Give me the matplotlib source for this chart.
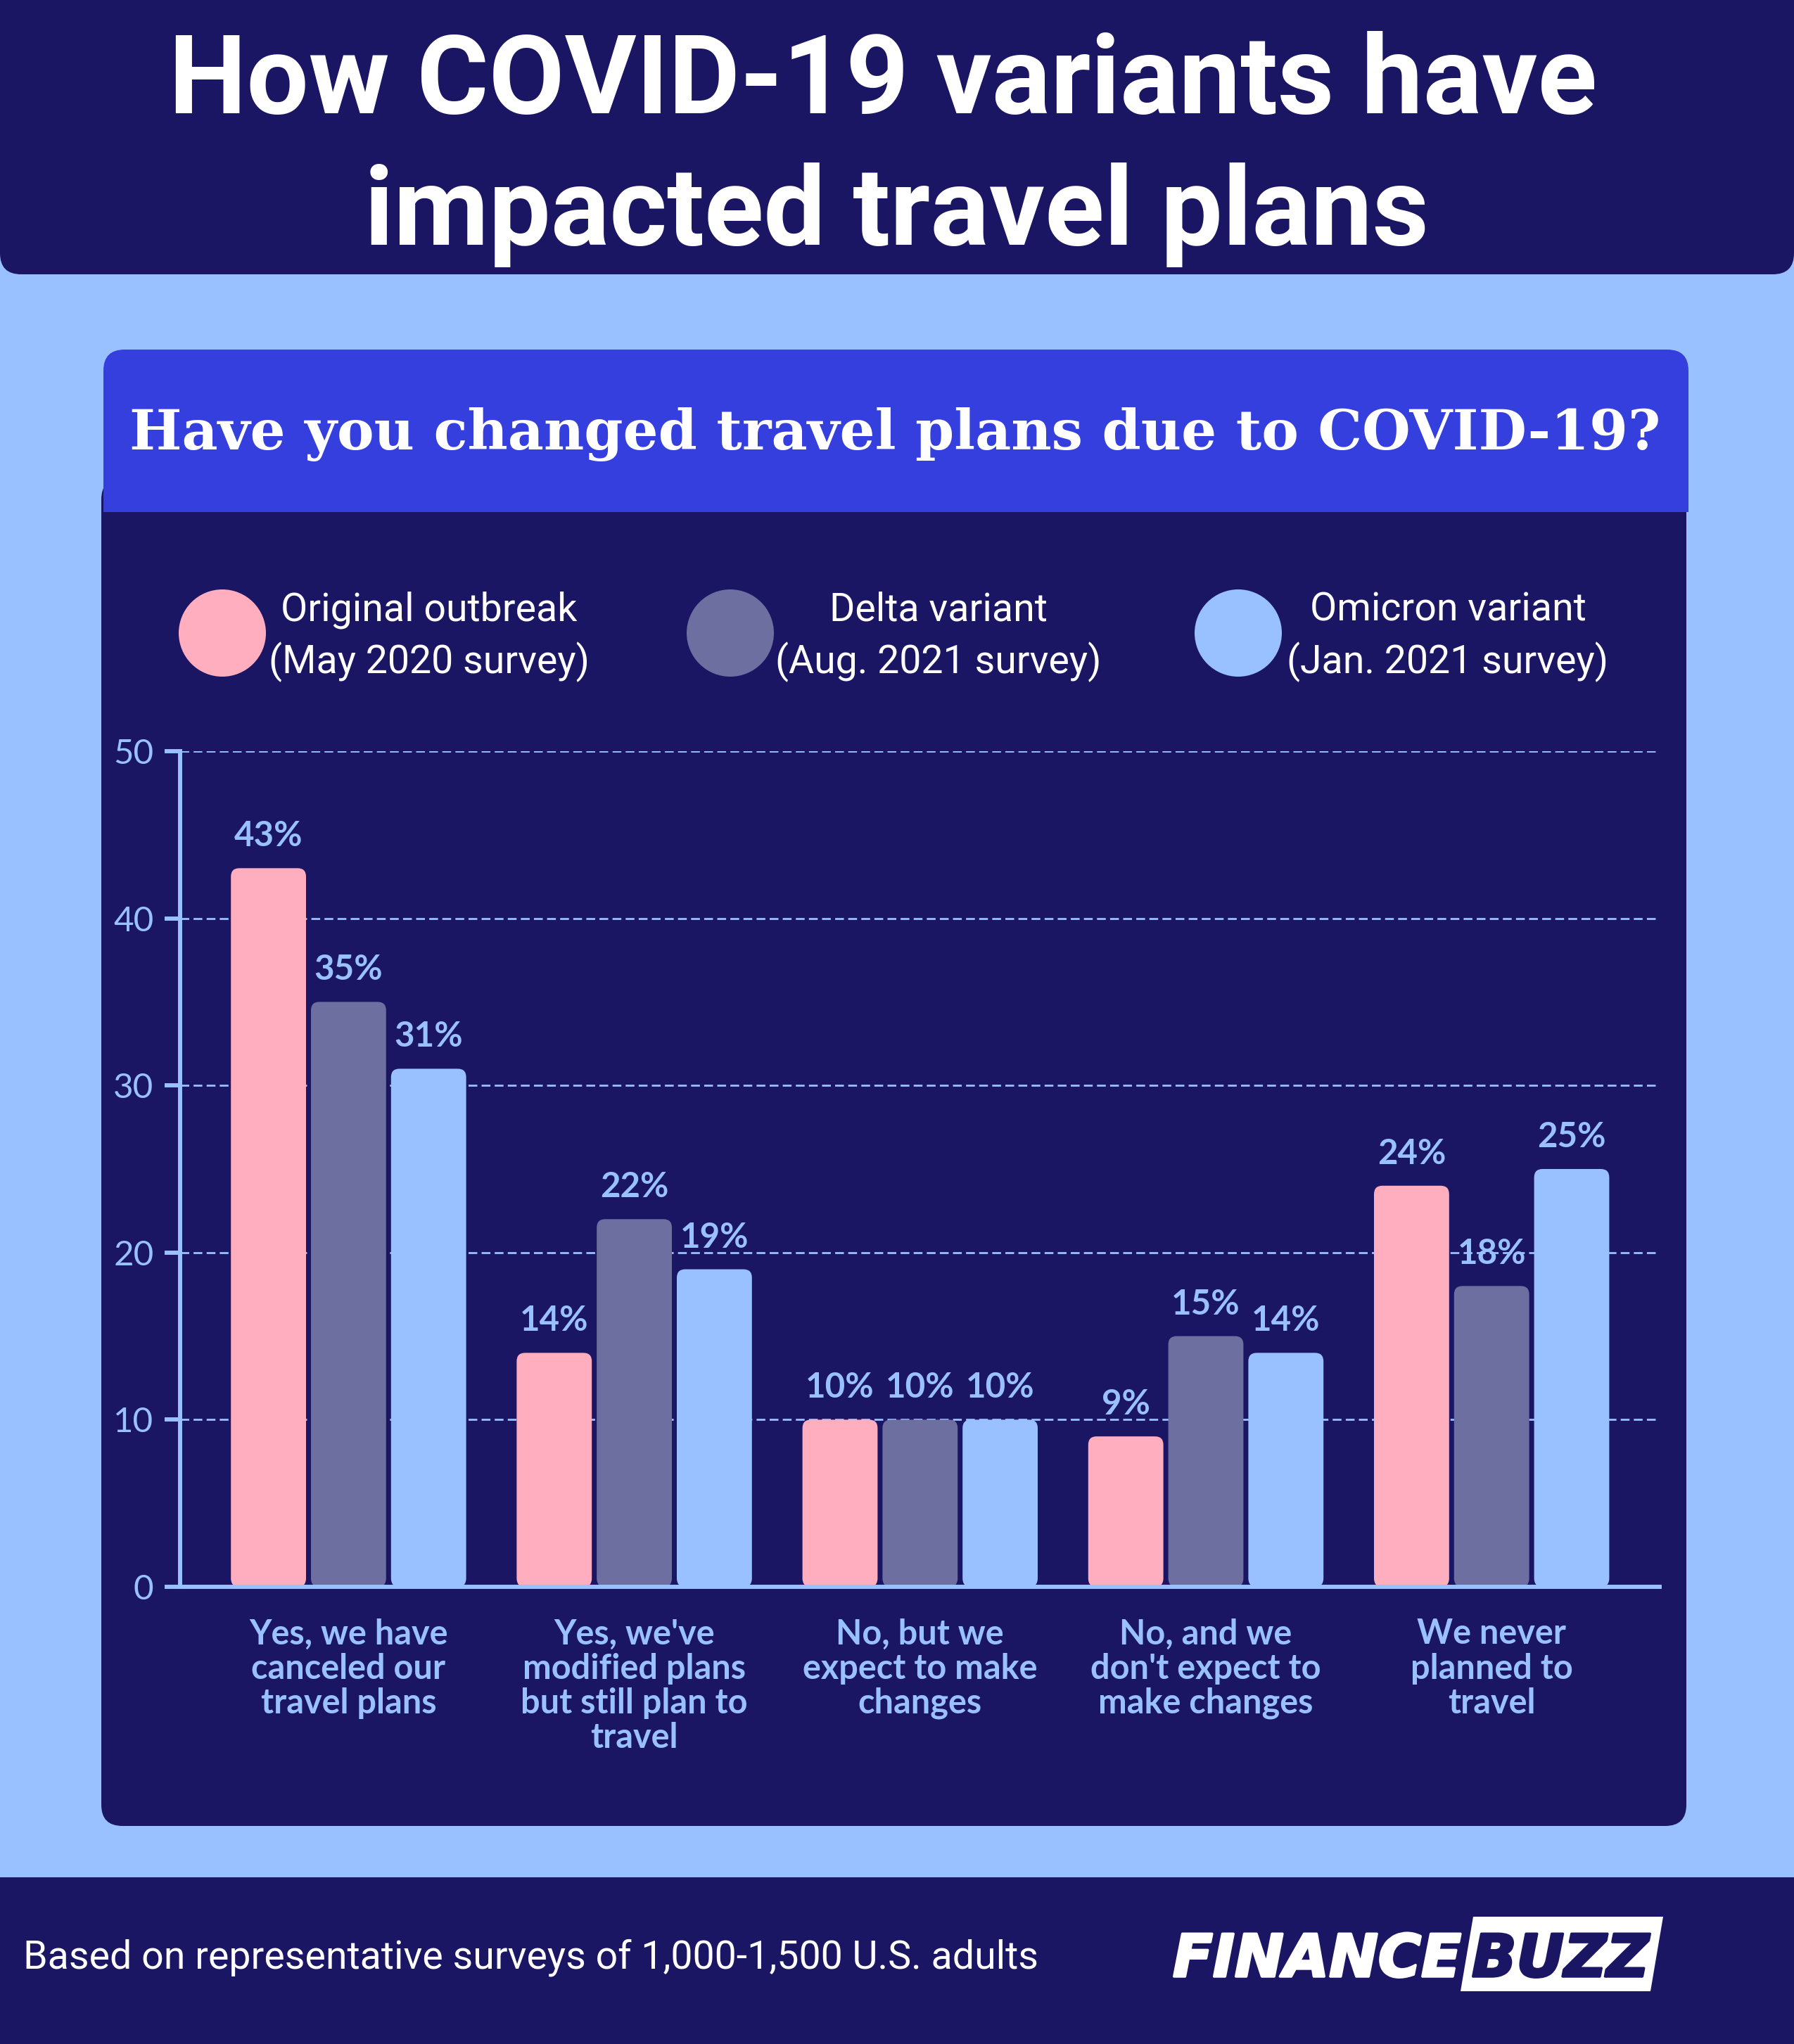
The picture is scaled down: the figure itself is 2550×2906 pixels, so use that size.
import matplotlib
matplotlib.use("Agg")
import matplotlib.pyplot as plt
from matplotlib.patches import FancyBboxPatch, Rectangle, Circle, Polygon
import matplotlib.patheffects as pe

W, H = 2550, 2906
NAVY = "#1b1663"; LIGHT = "#99c1ff"; BLUE = "#353fde"; PINK = "#ffaec0"; SLATE = "#6c6f9f"

title_lines = ["How COVID-19 variants have", "impacted travel plans"]
subtitle = "Have you changed travel plans due to COVID-19?"
series_names = ["Original outbreak\n(May 2020 survey)", "Delta variant\n(Aug. 2021 survey)", "Omicron variant\n(Jan. 2021 survey)"]
categories = ["Yes, we have\ncanceled our\ntravel plans", "Yes, we've\nmodified plans\nbut still plan to\ntravel", "No, but we\nexpect to make\nchanges", "No, and we\ndon't expect to\nmake changes", "We never\nplanned to\ntravel"]
original = [43, 14, 10, 9, 24]
delta = [35, 22, 10, 15, 18]
omicron = [31, 19, 10, 14, 25]
yticks = [0, 10, 20, 30, 40, 50]
footer = "Based on representative surveys of 1,000-1,500 U.S. adults"

fig = plt.figure(figsize=(W/100, H/100), dpi=100, facecolor=LIGHT)
bg = fig.add_axes([0, 0, 1, 1]); bg.set_xlim(0, W); bg.set_ylim(H, 0); bg.axis("off")

def rbox(x0, y0, x1, y1, r, c, z=1):
    bg.add_patch(FancyBboxPatch((x0+r, y0+r), x1-x0-2*r, y1-y0-2*r, boxstyle=f"round,pad={r},rounding_size={r}", fc=c, ec="none", zorder=z))

rbox(0, -60, W, 390, 30, NAVY)
rbox(144, 680, 2397, 2596, 30, NAVY)
rbox(147, 497, 2400, 660, 30, BLUE, 2)
bg.add_patch(Rectangle((147, 580), 2253, 148, fc=BLUE, ec="none", zorder=2))
bg.add_patch(Rectangle((0, 2669), W, H-2669, fc=NAVY, ec="none", zorder=1))

bg.text(1255.5, 161, title_lines[0], color="white", fontsize=112.5, fontweight="bold", family="Roboto", ha="center", va="baseline", zorder=5)
bg.text(1274, 348, title_lines[1], color="white", fontsize=112.5, fontweight="bold", family="Roboto", ha="center", va="baseline", zorder=5)
bg.text(1272, 639, subtitle, color="white", fontsize=56.8, fontweight="bold", family="DejaVu Serif", ha="center", va="baseline", zorder=5)

for cx, tx, c, s in zip([316, 1038, 1760], [610, 1334, 2058], [PINK, SLATE, LIGHT], series_names):
    bg.add_patch(Circle((cx, 900), 62, fc=c, ec="none", zorder=5))
    bg.text(tx, 905, s, color="white", fontsize=40, family="Roboto", ha="center", va="center", linespacing=1.42, zorder=5)

bg.text(33, 2783, footer, color="white", fontsize=40, family="Roboto", ha="left", va="center", zorder=5)

AX0, AX1, AY0, AY1 = 256, 2359, 2256, 1068
ax = fig.add_axes([AX0/W, 1-AY0/H, (AX1-AX0)/W, (AY0-AY1)/H], facecolor="none")
C0 = 495.4; STEP = 406.2
ax.set_xlim((AX0-C0)/STEP, (AX1-C0)/STEP)
ax.set_ylim(0, 50)
off = 113.8/STEP; bw = 106.8/STEP
ypx = (AY0-AY1)/50
for j, (vals, c) in enumerate(zip([original, delta, omicron], [PINK, SLATE, LIGHT])):
    for i, v in enumerate(vals):
        x = i + (j-1)*off
        r = 12/STEP
        pad_y = 12/ypx
        ax.add_patch(FancyBboxPatch((x-bw/2+r, pad_y), bw-2*r, v-2*pad_y, boxstyle=f"round,pad={r},rounding_size={r}", mutation_aspect=STEP/ypx, fc=c, ec="none", zorder=3))
        ax.text(x, v+31/ypx, f"{v}%", color=LIGHT, fontsize=35.5, fontweight="bold", family="Lato", ha="center", va="baseline", zorder=4)
for s in ["top", "right"]:
    ax.spines[s].set_visible(False)
for s in ["left", "bottom"]:
    ax.spines[s].set_color(LIGHT); ax.spines[s].set_linewidth(4.3); ax.spines[s].set_zorder(5)
ax.set_yticks(yticks)
ax.yaxis.grid(True, color=LIGHT, lw=2, ls=(0, (4.5, 2.2)), zorder=1)
ax.set_axisbelow(True)
ax.tick_params(axis="y", length=16, width=4.3, color=LIGHT, labelcolor=LIGHT, labelsize=35.5, pad=11)
for t in ax.get_yticklabels():
    t.set_family("Lato")
ax.set_xticks(range(5))
ax.set_xticklabels(categories, color=LIGHT, fontsize=35, fontweight="bold", family="Lato", linespacing=1.11, va="top")
ax.tick_params(axis="x", length=0, pad=32)

# logo
bg.add_patch(Polygon([(2094, 2725), (2364, 2725), (2346, 2831), (2076, 2831)], closed=True, fc="white", ec="none", zorder=5))
heavy = lambda col: [pe.withStroke(linewidth=2.5, foreground=col)]
bg.text(1667, 2810, "FINANCE", color="white", fontsize=60, fontweight="bold", style="oblique", family="DejaVu Sans", ha="left", va="baseline", zorder=6, path_effects=heavy("white"))
bg.text(2092, 2810, "BUZZ", color=NAVY, fontsize=60, fontweight="bold", style="oblique", family="DejaVu Sans", ha="left", va="baseline", zorder=6, path_effects=heavy(NAVY))

fig.savefig("out.png", dpi=100, facecolor=LIGHT)
